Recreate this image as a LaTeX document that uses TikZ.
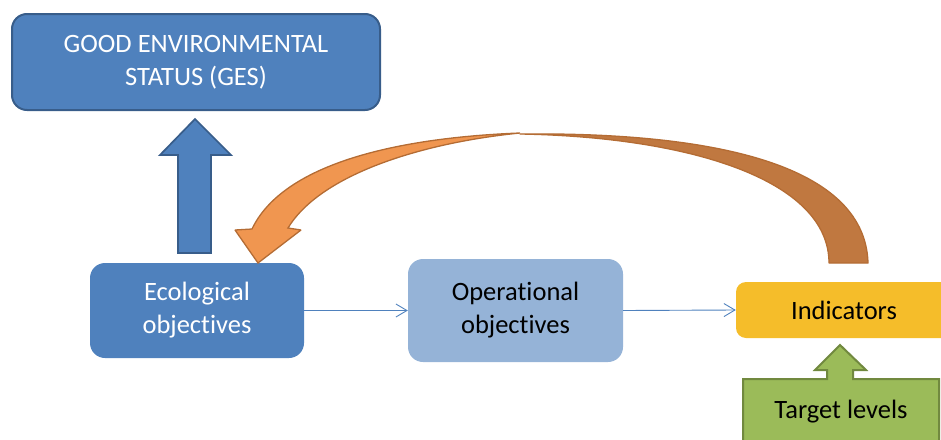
\documentclass[tikz,border=0pt]{standalone}
\usepackage{fontspec}
\setmainfont[Ligatures=NoCommon]{Carlito}
\usetikzlibrary{arrows.meta}

\definecolor{gesblue}{RGB}{79,129,189}
\definecolor{gesedge}{RGB}{56,93,138}
\definecolor{oplight}{RGB}{149,179,215}
\definecolor{indyellow}{RGB}{245,189,42}
\definecolor{tgtgreen}{RGB}{155,187,89}
\definecolor{tgtedge}{RGB}{113,137,63}
\definecolor{curvefront}{RGB}{240,150,80}
\definecolor{curveback}{RGB}{192,120,64}
\definecolor{curveedge}{RGB}{180,108,52}

\tikzset{
  objbox/.style={rectangle, rounded corners=15pt, inner sep=0pt, align=center,
    font=\fontsize{26.5pt}{33pt}\selectfont},
  flow/.style={draw=gesblue, line width=0.9pt, -{Straight Barb[length=11pt,width=13pt]}},
}

\begin{document}
\begin{tikzpicture}
    \clip (0pt,0pt) rectangle (941pt,-439pt);
    % boxes
    \node[objbox, fill=gesblue, draw=gesedge, line width=2pt, text=white,
      minimum width=368pt, minimum height=96pt] (ges) at (196pt,-62pt)
      {GOOD ENVIRONMENTAL\\STATUS (GES)};
    \node[objbox, fill=gesblue, text=white, minimum width=214pt, minimum height=95pt]
      (eco) at (197pt,-310.5pt) {Ecological\\objectives};
    \node[objbox, fill=oplight, minimum width=215pt, minimum height=103pt]
      (op) at (515.5pt,-310.5pt) {Operational\\objectives};
    \node[objbox, rounded corners=10pt, fill=indyellow, minimum width=216pt, minimum height=56pt]
      (ind) at (844pt,-310pt) {Indicators};
    % thin connectors
    \draw[flow] (eco.east) -- (op.west);
    \draw[flow] (op.east) -- (ind.west);
    % block arrow up to GES
    \draw[fill=gesblue, draw=gesedge, line width=1.7pt, line join=miter]
      (178pt,-253pt) -- (178pt,-155pt) -- (160pt,-155pt) -- (195pt,-119pt)
      -- (231pt,-155pt) -- (211pt,-155pt) -- (211pt,-253pt) -- cycle;
    % target levels callout
    \draw[fill=tgtgreen, draw=tgtedge, line width=2pt]
      (743pt,-450pt) -- (743pt,-379pt) -- (827pt,-379pt) -- (827pt,-370pt)
      -- (815pt,-370pt) -- (840pt,-345pt) -- (866pt,-370pt) -- (853pt,-370pt)
      -- (853pt,-379pt) -- (939pt,-379pt) -- (939pt,-450pt);
    \node[objbox] (tgt) at (841pt,-412pt) {Target levels};
    % curved arrow back to ecological objectives
    \draw[fill=curveback, draw=curveedge, line width=1.3pt, line join=round]
      (829pt,-263pt) .. controls (829pt,-180pt) and (690pt,-137pt) .. (520pt,-134pt)
      .. controls (700pt,-132pt) and (865pt,-160pt) .. (868pt,-263pt) -- cycle;
    \draw[fill=curvefront, draw=curveedge, line width=1.3pt, line join=miter, miter limit=2]
      (252pt,-229pt) .. controls (282pt,-166pt) and (390pt,-138pt) .. (520pt,-133pt)
      .. controls (420pt,-143pt) and (320pt,-175pt) .. (288pt,-228pt)
      -- (301pt,-230pt) -- (258pt,-263pt) -- (235pt,-230pt) -- cycle;
\end{tikzpicture}
\end{document}
